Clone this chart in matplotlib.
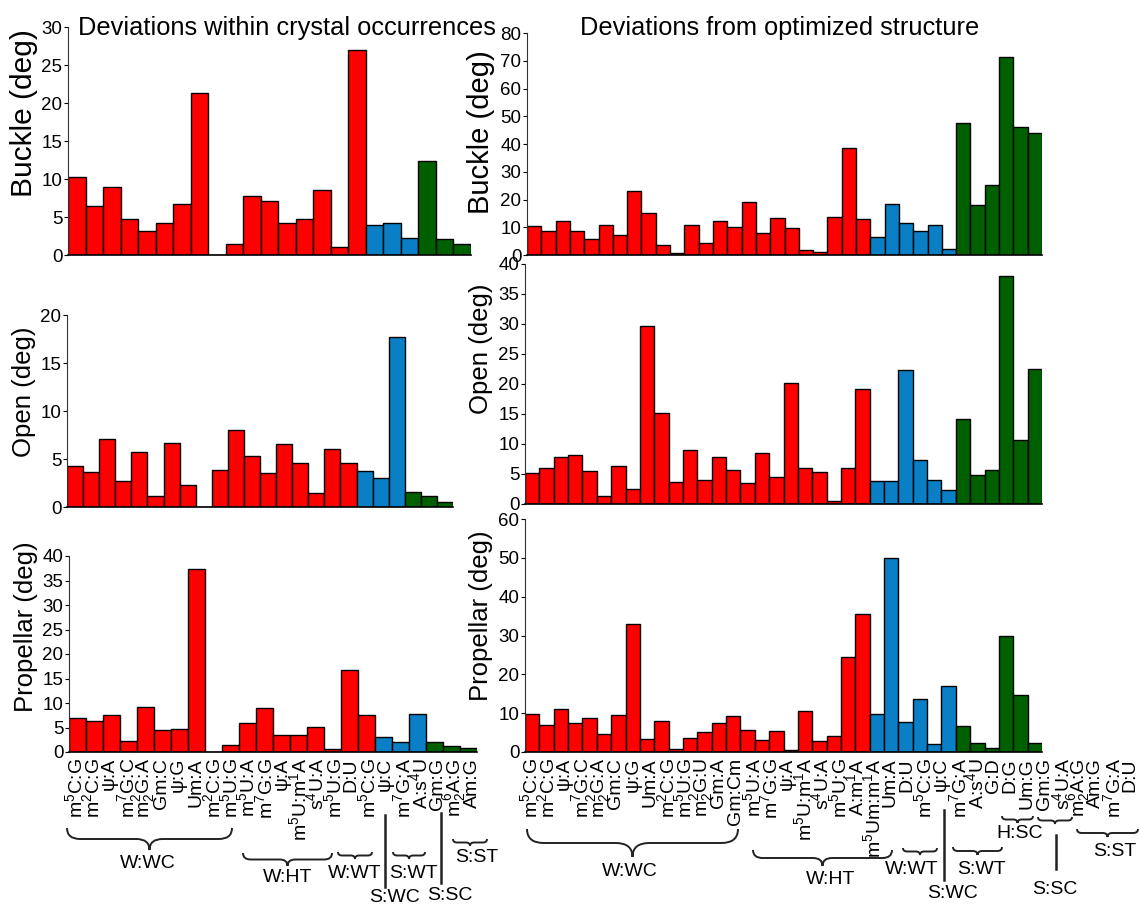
import matplotlib
matplotlib.use("Agg")
import matplotlib.pyplot as plt
from matplotlib.path import Path
from matplotlib.patches import PathPatch
from matplotlib.lines import Line2D
import numpy as np

plt.rcParams['font.family'] = ['Liberation Sans', 'DejaVu Sans']
plt.rcParams['mathtext.fontset'] = 'custom'
plt.rcParams['mathtext.rm'] = 'Liberation Sans'
plt.rcParams['mathtext.default'] = 'regular'

# ---------------- data ----------------
RED, BLUE, GREEN = '#ff0000', '#0a7fc6', '#006000'

# left panel: deviations within crystal occurrences
left_labels = ['m$^5$C:G', 'm$^2$C:G', 'ψ:A', 'm$^7$G:C', 'm$^2_2$G:A', 'Gm:C', 'ψ:G', 'Um:A',
               'm$^2$C:G', 'm$^5$U:G',
               'm$^5$U:A', 'm$^7$G:G', 'ψ:A', 'm$^5$U:m$^1$A', 's$^4$U:A', 'm$^5$U:G',
               'D:U', 'm$^5$C:G',
               'ψ:C', 'm$^7$G:A', 'A:s$^4$U',
               'Gm:G', 'm$^6_2$A:G', 'Am:G']
left_buckle = [10.2, 6.5, 8.9, 4.7, 3.2, 4.2, 6.65, 21.3, 0.0, 1.5, 7.75, 7.05, 4.2, 4.7, 8.6, 1.1, 27.0,
               4.0, 4.2, 2.2,
               12.4, 2.1, 1.4]
left_buckle_counts = (17, 3, 3)
left_open = [4.3, 3.6, 7.05, 2.7, 5.7, 1.15, 6.7, 2.3, 0.0, 3.85, 8.0, 5.35, 3.55, 6.6, 4.6, 1.5, 6.05, 4.55,
             3.7, 3.05, 17.7,
             1.6, 1.15, 0.5]
left_open_counts = (18, 3, 3)
left_prop = [6.9, 6.3, 7.6, 2.2, 9.1, 4.5, 4.65, 37.4, 0.0, 1.4, 5.95, 9.05, 3.4, 3.4, 5.2, 0.7, 16.7, 7.6,
             3.1, 2.0, 7.8,
             2.1, 1.2, 0.8]
left_prop_counts = (18, 3, 3)

# right panel: deviations from optimized structure
right_labels = ['m$^5$C:G', 'm$^2$C:G', 'ψ:A', 'm$^7$G:C', 'm$^2_2$G:A', 'Gm:C', 'ψ:G', 'Um:A',
                'm$^2$C:G', 'm$^5$U:G', 'm$^2_2$G:U', 'Gm:A', 'Gm:Cm',
                'm$^5$U:A', 'm$^7$G:G', 'ψ:A', 'm$^5$U:m$^1$A', 's$^4$U:A', 'm$^5$U:G', 'A:m$^1$A',
                'm$^5$Um:m$^1$A', 'Um:A',
                'D:U', 'm$^5$C:G',
                'ψ:C',
                'm$^7$G:A', 'A:s$^4$U', 'G:D',
                'D:G', 'Um:G',
                'Gm:G', 's$^4$U:A',
                'm$^6_2$A:G', 'Am:G', 'm$^7$G:A', 'D:U']
right_buckle = [10.4, 8.8, 12.2, 8.6, 5.9, 10.7, 7.2, 23.0, 15.2, 3.6, 0.6, 10.8, 4.4, 12.2, 10.0, 19.2,
                8.0, 13.3, 9.7, 1.8, 1.2, 13.8, 38.4, 13.0,
                6.5, 18.2, 11.6, 8.6, 10.7, 2.0,
                47.7, 18.0, 25.2, 71.5, 46.2, 43.8]
right_open = [5.1, 6.0, 7.8, 8.2, 5.55, 1.4, 6.4, 2.45, 29.6, 15.2, 3.7, 9.0, 3.95, 7.85, 5.65, 3.5,
              8.55, 4.5, 20.2, 6.05, 5.3, 0.5, 6.0, 19.2,
              3.8, 3.8, 22.3, 7.4, 3.95, 2.3,
              14.1, 4.85, 5.65, 38.0, 10.7, 22.5]
right_prop = [9.85, 6.95, 11.05, 7.45, 8.75, 4.55, 9.6, 33.0, 3.25, 7.9, 0.8, 3.5, 5.15, 7.35, 9.25, 5.65,
              3.1, 5.5, 0.45, 10.45, 2.9, 4.2, 24.4, 35.55,
              9.85, 49.9, 7.7, 13.7, 2.0, 17.05,
              6.6, 2.4, 0.95, 30.0, 14.8, 2.3]
right_counts = (24, 6, 6)

# ---------------- figure ----------------
W, H = 1140, 907
fig = plt.figure(figsize=(W / 100, H / 100), dpi=100)


def fx(x):
    return x / W


def fy(y):
    return 1 - y / H


def make_ax(x0, x1, y0, y1):
    return fig.add_axes([fx(x0), fy(y1), fx(x1 - x0), (y1 - y0) / H])


def draw_bars(ax, vals, counts, ymax, step):
    cols = [RED] * counts[0] + [BLUE] * counts[1] + [GREEN] * counts[2]
    x = np.arange(len(vals))
    ax.bar(x, vals, width=1.0, color=cols, edgecolor='black', linewidth=1.0)
    ax.set_xlim(-0.5, len(vals) - 0.5)
    ax.set_ylim(0, ymax)
    ax.set_yticks(np.arange(0, ymax + 0.1, step))
    ax.set_xticks([])
    for s in ('top', 'right'):
        ax.spines[s].set_visible(False)
    ax.spines['left'].set_linewidth(0.8)
    ax.spines['left'].set_color('#333333')
    ax.spines['bottom'].set_linewidth(1.2)
    ax.tick_params(axis='y', labelsize=13.5, length=3, width=0.8, pad=1)
    ax.patch.set_alpha(0)


ax = make_ax(68, 471, 27, 255)
draw_bars(ax, left_buckle, left_buckle_counts, 30, 5)
ax = make_ax(67, 453, 315, 507)
draw_bars(ax, left_open, left_open_counts, 20, 5)
ax = make_ax(69, 477, 556, 752)
draw_bars(ax, left_prop, left_prop_counts, 40, 5)

ax = make_ax(527, 1042, 33, 255)
draw_bars(ax, right_buckle, right_counts, 80, 10)
ax = make_ax(525, 1042, 264, 504)
draw_bars(ax, right_open, right_counts, 40, 5)
ax = make_ax(525, 1042, 519, 752)
draw_bars(ax, right_prop, right_counts, 60, 10)

# titles
fig.text(fx(287), fy(28), 'Deviations within crystal occurrences', ha='center', va='center', fontsize=18.3)
fig.text(fx(780), fy(28), 'Deviations from optimized structure', ha='center', va='center', fontsize=18.3)

# y labels
for (x, y, t, fs) in [(24, 113, 'Buckle (deg)', 21.5), (24, 392, 'Open (deg)', 18.5),
                      (26, 627, 'Propellar (deg)', 18.5),
                      (481, 132, 'Buckle (deg)', 21), (481, 349, 'Open (deg)', 18.5),
                      (481, 616, 'Propellar (deg)', 18.5)]:
    fig.text(fx(x), fy(y), t, rotation=90, ha='center', va='center', fontsize=fs)

# x category labels
for labels, x0, dx in [(left_labels, 75, 17.26), (right_labels, 530, 17.15)]:
    for i, lab in enumerate(labels):
        fig.text(fx(x0 + i * dx), fy(758), lab, rotation=90, ha='center', va='top', fontsize=14)


def brace(x1, x2, ytop, h, lw=1.4):
    xm = (x1 + x2) / 2
    ym = ytop + h / 2
    yt = ytop + h
    r = min(h * 0.6, (x2 - x1) / 4)
    pts = [(x1, ytop), (x1, ym), (x1 + r, ym), (xm - r, ym), (xm, ym), (xm, yt),
           (xm, ym), (xm + r, ym), (x2 - r, ym), (x2, ym), (x2, ytop)]
    codes = [Path.MOVETO, Path.CURVE3, Path.CURVE3, Path.LINETO, Path.CURVE3, Path.CURVE3,
             Path.CURVE3, Path.CURVE3, Path.LINETO, Path.CURVE3, Path.CURVE3]
    verts = [(fx(a), fy(b)) for a, b in pts]
    fig.patches.append(PathPatch(Path(verts, codes), transform=fig.transFigure,
                                 facecolor='none', edgecolor='#222222', lw=lw))


def vline(x, y1, y2, lw=1.8):
    fig.lines.append(Line2D([fx(x), fx(x)], [fy(y1), fy(y2)], transform=fig.transFigure,
                            color='#222222', lw=lw))


def glabel(x, y, t):
    fig.text(fx(x), fy(y), t, ha='center', va='center', fontsize=14)


# left group annotations
brace(67, 232, 828, 22); glabel(148, 864, 'W:WC')
brace(243, 332, 853, 13); glabel(288, 878, 'W:HT')
brace(338, 372, 852, 7); glabel(355, 873, 'W:WT')
vline(385, 815, 887); glabel(395, 897, 'S:WC')
brace(393, 425, 852, 7); glabel(413, 873, 'S:WT')
vline(441, 813, 883); glabel(450, 895, 'S:SC')
brace(453, 487, 839, 7); glabel(477, 858, 'S:ST')

# right group annotations
brace(527, 738, 829, 28); glabel(630, 872, 'W:WC')
brace(753, 892, 850, 16); glabel(831, 880, 'W:HT')
brace(903, 937, 848, 7); glabel(912, 869, 'W:WT')
vline(944, 810, 880); glabel(952, 893, 'S:WC')
brace(953, 1002, 847, 8); glabel(981, 869, 'S:WT')
brace(1002, 1033, 816, 7); glabel(1020, 834, 'H:SC')
brace(1038, 1072, 817, 7); vline(1056, 835, 869); glabel(1055, 889, 'S:SC')
brace(1077, 1138, 829, 8); glabel(1115, 851, 'S:ST')

fig.savefig('out.png', dpi=100)
